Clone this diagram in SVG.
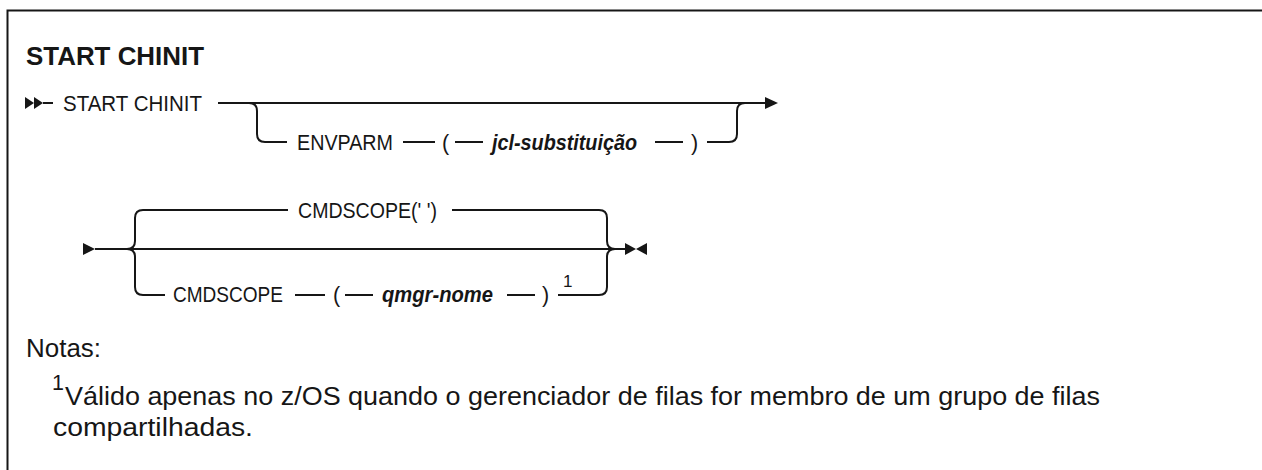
<svg xmlns="http://www.w3.org/2000/svg" width="1262" height="470" viewBox="0 0 1262 470">
<style>
.t{font-family:"Liberation Sans","Noto Sans",Arial,sans-serif;font-size:21.5px;fill:#161616}
.v{font-style:italic;font-weight:bold}
.h{font-weight:bold;font-size:25px}
.n{font-size:26px}
.s{font-size:17px}
.ln{fill:none;stroke:#161616;stroke-width:2}
.ah{fill:#161616}
</style>
<rect width="1262" height="470" fill="#fff"/>
<path class="ln" d="M7.5,470 V10.5 H1262"/>
<g id="title"><text class="t h" x="26" y="65" textLength="178" lengthAdjust="spacingAndGlyphs">START CHINIT</text></g>
<g id="connectors">
<polygon class="ah" points="25,97 34,103 25,109"/>
<polygon class="ah" points="34,97 43,103 34,109"/>
<path class="ln" d="M43,103 H53"/>
<path class="ln" d="M218,103 H766"/>
<polygon class="ah" points="765,97 778,103 765,109"/>
<path class="ln" d="M249,103 Q257,103 257,111 V134 Q257,142 265,142 H287"/>
<path class="ln" d="M403,142 H435 M455,142 H483 M655,142 H683"/>
<path class="ln" d="M707,142 H729 Q737,142 737,134 V111 Q737,103 745,103"/>
<polygon class="ah" points="83,243 95,249 83,255"/>
<path class="ln" d="M95,249 H625"/>
<path class="ln" d="M127,249 Q135,249 135,241 V218 Q135,210 143,210 H288"/>
<path class="ln" d="M127,249 Q135,249 135,257 V287 Q135,295 143,295 H165"/>
<path class="ln" d="M452,210 H599 Q607,210 607,218 V241 Q607,249 615,249"/>
<path class="ln" d="M295,295 H325 M345,295 H373 M507,295 H535"/>
<path class="ln" d="M558,295 H599 Q607,295 607,287 V257 Q607,249 615,249"/>
<polygon class="ah" points="625,243 636,249 625,255"/>
<polygon class="ah" points="647,243 636,249 647,255"/>
</g>
<g id="start-chinit"><text class="t" x="63" y="110.5" textLength="139" lengthAdjust="spacingAndGlyphs">START CHINIT</text></g>
<g id="envparm">
<text class="t" x="297" y="150" textLength="96" lengthAdjust="spacingAndGlyphs">ENVPARM</text>
<text class="t" x="442" y="150">(</text>
<text class="t v" x="492" y="150" textLength="145" lengthAdjust="spacingAndGlyphs">jcl-substituição</text>
<text class="t" x="691" y="150">)</text>
</g>
<g id="cmdscope-default"><text class="t" x="298" y="217.5" textLength="139" lengthAdjust="spacingAndGlyphs">CMDSCOPE(' ')</text></g>
<g id="cmdscope-qmgr">
<text class="t" x="173" y="302" textLength="110" lengthAdjust="spacingAndGlyphs">CMDSCOPE</text>
<text class="t" x="333" y="302">(</text>
<text class="t v" x="382" y="302" textLength="111" lengthAdjust="spacingAndGlyphs">qmgr-nome</text>
<text class="t" x="542" y="302">)</text>
<text class="t s" x="563" y="287">1</text>
</g>
<g id="notes">
<text class="t n" x="26" y="357" textLength="75" lengthAdjust="spacingAndGlyphs">Notas:</text>
<text class="t" x="52" y="390" font-size="16">1</text>
<text class="t n" x="65" y="405" textLength="1035" lengthAdjust="spacingAndGlyphs">Válido apenas no z/OS quando o gerenciador de filas for membro de um grupo de filas</text>
<text class="t n" x="53" y="436" textLength="200" lengthAdjust="spacingAndGlyphs">compartilhadas.</text>
</g>
</svg>
